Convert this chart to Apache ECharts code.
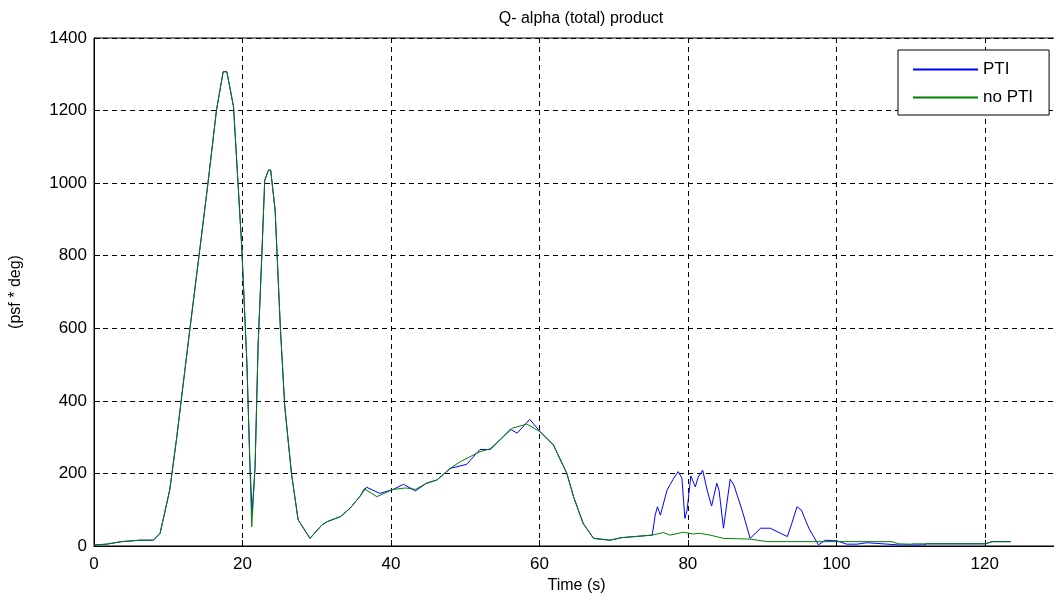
<!DOCTYPE html>
<html lang="en">
<head>
    <meta charset="UTF-8">
    <title>Q- alpha (total) product</title>
    <script src="https://cdn.jsdelivr.net/npm/echarts@6/dist/echarts.min.js"></script>
    <style>
        html, body { margin: 0; padding: 0; background: #fff; }
        #main { width: 1054px; height: 602px; }
    </style>
</head>
<body>
<div id="main"></div>
<script>
    // time (s) and Q-alpha (psf*deg)
    var ptiTime = [0, 1.7, 3.7, 6.2, 8, 8.9, 10.2, 11.1, 12.9, 14.3, 15.4, 16.5, 17.4, 17.9, 18.8, 19.4, 19.9, 20.1,
        20.6, 21.0, 21.3, 21.7, 22.1, 22.6, 23.0, 23.5, 23.8, 24.4, 25.1, 25.7, 26.6, 27.5, 29.1, 30.7, 31.4,
        33.2, 34.5, 35.8, 36.7, 38.5, 40.3, 41.7, 43.3, 44.8, 46.2, 48.0, 50.2, 52.0, 53.4, 56.1, 57.0, 58.7,
        60.1, 61.9, 63.7, 64.6, 65.9, 67.3, 69.5, 71.1, 75.2, 75.6, 75.9, 76.3, 77.2, 78.1, 78.7, 79.2, 79.6,
        79.9, 80.4, 81.0, 81.4, 82.0, 82.6, 83.2, 83.9, 84.2, 84.8, 85.7, 86.2, 87.3, 88.4, 89.8, 91.1, 93.4,
        94.0, 94.7, 95.3, 96.3, 97.6, 98.5, 100.1, 101.4, 102.8, 104.1, 108.4, 111.8, 112.2, 120.1, 121, 123.5];
    var ptiQ = [3, 5, 12, 16, 16, 35, 154, 292, 595, 825, 1008, 1201, 1307, 1307, 1210, 1000, 825, 733,
        503, 228, 90, 219, 549, 797, 1008, 1036, 1036, 926, 604, 384, 200, 72, 21, 58, 67,
        81, 104, 136, 162, 145, 156, 170, 152, 173, 182, 214, 225, 266, 266, 322, 311, 349,
        315, 278, 200, 136, 62, 21, 16, 23, 30, 85, 108, 85, 154, 187, 205, 187, 76,
        99, 193, 163, 190, 209, 154, 110, 173, 154, 49, 184, 168, 99, 21, 49, 49, 26,
        62, 108, 99, 49, 3, 16, 14, 5, 5, 9, 3, 3, 6, 6, 12, 12];

    var noPtiTime = [0, 1.7, 3.7, 6.2, 8, 8.9, 10.2, 11.1, 12.9, 14.3, 15.4, 16.5, 17.4, 17.9, 18.8, 19.4, 19.9, 20.1,
        20.6, 21.0, 21.25, 21.7, 22.1, 22.6, 23.0, 23.5, 23.8, 24.4, 25.1, 25.7, 26.6, 27.5, 29.1, 30.7, 31.4,
        33.2, 34.5, 35.8, 36.4, 38.1, 40.3, 42.0, 43.3, 44.8, 46.2, 48.0, 49.3, 52.0, 53.4, 56.4, 58.3,
        60.1, 61.9, 63.7, 64.6, 65.9, 67.3, 69.5, 71.1, 75.2, 76.7, 77.6, 79.4, 80.7, 81.6, 83.0, 84.8,
        88.4, 90.7, 100.5, 101.7, 107.5, 108.4, 110, 110.3, 120, 121, 123.5];
    var noPtiQ = [3, 5, 12, 16, 16, 35, 154, 292, 595, 825, 1008, 1201, 1307, 1307, 1210, 1000, 825, 733,
        503, 228, 53, 219, 549, 797, 1008, 1036, 1036, 926, 604, 384, 200, 72, 21, 58, 67,
        81, 104, 136, 158, 136, 156, 160, 156, 173, 182, 214, 232, 260, 268, 325, 336,
        315, 278, 200, 136, 62, 21, 16, 23, 30, 37, 30, 38, 33, 35, 30, 21,
        19, 12, 12, 12, 12, 6, 5, 6, 6, 12, 12];

    var xTicks = [0, 20, 40, 60, 80, 100, 120];
    var yTicks = [0, 200, 400, 600, 800, 1000, 1200, 1400];

    function pairs(t, v) {
        return t.map(function (x, i) { return [x, v[i]]; });
    }

    var font = 'Liberation Sans, Arial, sans-serif';
    var gridLine = { show: true, lineStyle: { color: '#000', width: 1, type: [5, 4] } };

    var chart = echarts.init(document.getElementById('main'));
    chart.setOption({
        animation: false,
        backgroundColor: '#fff',
        title: {
            text: 'Q- alpha (total) product',
            left: 576,
            textAlign: 'center',
            top: 6,
            textStyle: { fontFamily: font, fontSize: 16, fontWeight: 'normal', color: '#000' }
        },
        legend: {
            left: 898,
            top: 50,
            orient: 'vertical',
            backgroundColor: '#fff',
            borderColor: '#000',
            borderWidth: 1,
            borderRadius: 0,
            padding: [11, 16, 9, 14],
            itemWidth: 65,
            itemHeight: 14,
            itemGap: 11,
            itemStyle: { opacity: 0 },
            textStyle: { fontFamily: font, fontSize: 17, color: '#000' },
            data: ['PTI', 'no PTI']
        },
        grid: {
            left: 94, top: 38, height: 508, width: 965,
            outerBoundsMode: 'none',
            containLabel: false,
            show: true, borderColor: '#000', borderWidth: 1
        },
        xAxis: {
            type: 'value',
            min: 0, max: 130, interval: 20,
            name: 'Time (s)',
            nameLocation: 'middle',
            nameGap: 32,
            nameTextStyle: { fontFamily: font, fontSize: 16, color: '#000' },
            axisLine: { lineStyle: { color: '#000' } },
            axisTick: { inside: true, length: 6, lineStyle: { color: '#000' } },
            axisLabel: {
                fontFamily: font, fontSize: 17, color: '#000', margin: 10,
                formatter: function (v) { return xTicks.indexOf(v) >= 0 ? v : ''; }
            },
            splitLine: gridLine
        },
        yAxis: {
            type: 'value',
            min: 0, max: 1400, interval: 200,
            name: '(psf * deg)',
            nameLocation: 'middle',
            nameGap: 70,
            nameTextStyle: { fontFamily: font, fontSize: 16, color: '#000' },
            axisLine: { show: true, lineStyle: { color: '#000' } },
            axisTick: { show: true, inside: true, length: 6, lineStyle: { color: '#000' } },
            axisLabel: {
                fontFamily: font, fontSize: 17, color: '#000', margin: 7,
                formatter: function (v) { return yTicks.indexOf(v) >= 0 ? v : ''; }
            },
            splitLine: gridLine
        },
        series: [
            {
                name: 'PTI',
                type: 'line',
                symbol: 'none',
                color: '#0000ff',
                lineStyle: { color: '#0000ff', width: 1 },
                data: pairs(ptiTime, ptiQ)
            },
            {
                name: 'no PTI',
                type: 'line',
                symbol: 'none',
                color: '#008000',
                lineStyle: { color: '#008000', width: 1 },
                data: pairs(noPtiTime, noPtiQ)
            }
        ]
    });
</script>
</body>
</html>
